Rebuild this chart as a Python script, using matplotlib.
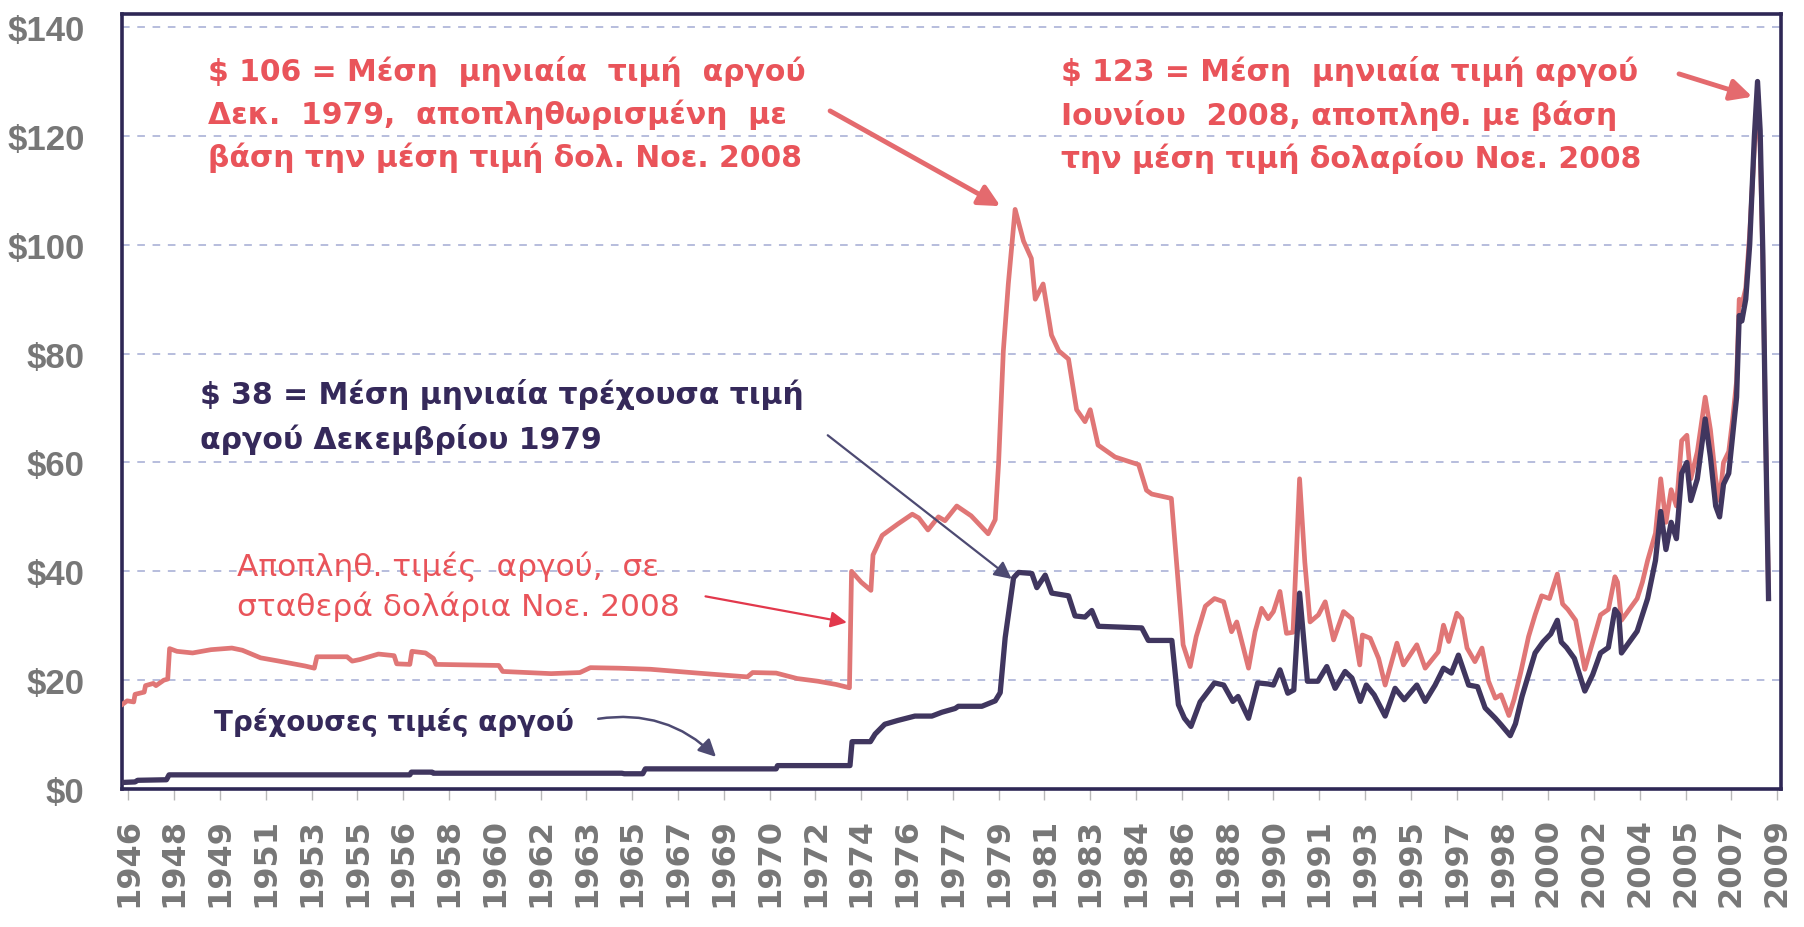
import matplotlib
matplotlib.use('Agg')
import matplotlib.pyplot as plt

# ---------------- data ----------------
real_years = [1946.00, 1946.20, 1946.45, 1946.50, 1946.85, 1946.90, 1947.20, 1947.30, 1947.60, 1947.75,
              1947.82, 1948.10, 1948.70, 1949.40, 1950.20, 1950.60, 1951.30, 1952.00, 1953.00, 1953.35,
              1953.45, 1954.60, 1954.80, 1955.10, 1955.80, 1956.40, 1956.50, 1957.00, 1957.08, 1957.60,
              1957.90, 1958.00, 1960.40, 1960.55, 1962.40, 1963.50, 1963.90, 1965.00, 1966.20, 1968.00,
              1969.90, 1970.10, 1971.00, 1971.80, 1972.60, 1973.30, 1973.80, 1973.88, 1974.25, 1974.62,
              1974.70, 1975.05, 1975.65, 1976.20, 1976.45, 1976.80, 1977.20, 1977.45, 1977.90, 1978.45,
              1979.10, 1979.37, 1979.50, 1979.68, 1979.87, 1980.13, 1980.45, 1980.75, 1980.90, 1981.20,
              1981.52, 1981.80, 1982.17, 1982.48, 1982.80, 1983.00, 1983.30, 1983.95, 1984.85, 1985.15,
              1985.35, 1986.10, 1986.35, 1986.55, 1986.82, 1987.05, 1987.40, 1987.75, 1988.10, 1988.40,
              1988.60, 1989.05, 1989.30, 1989.55, 1989.80, 1990.00, 1990.25, 1990.50, 1990.75, 1991.00,
              1991.20, 1991.40, 1991.72, 1991.98, 1992.30, 1992.68, 1993.00, 1993.30, 1993.40, 1993.70,
              1994.02, 1994.27, 1994.72, 1994.97, 1995.48, 1995.80, 1996.30, 1996.50, 1996.70, 1997.01,
              1997.20, 1997.40, 1997.70, 1997.97, 1998.22, 1998.48, 1998.70, 1999.00, 1999.20, 1999.45,
              1999.75, 2000.00, 2000.25, 2000.55, 2000.85, 2001.05, 2001.25, 2001.55, 2001.90, 2002.20,
              2002.50, 2002.80, 2003.05, 2003.15, 2003.30, 2003.60, 2003.90, 2004.10, 2004.30, 2004.60,
              2004.80, 2005.00, 2005.20, 2005.40, 2005.60, 2005.80, 2005.95, 2006.20, 2006.50, 2006.70,
              2006.90, 2007.05, 2007.20, 2007.40, 2007.55, 2007.70, 2007.80, 2007.90, 2008.05, 2008.20,
              2008.38, 2008.50, 2008.60, 2008.70, 2008.80, 2008.92]
real_price = [15.5, 16.2, 16.0, 17.4, 17.8, 19.0, 19.4, 19.0, 20.0, 20.2,
              25.8, 25.3, 25.0, 25.6, 25.9, 25.5, 24.1, 23.5, 22.6, 22.2,
              24.3, 24.3, 23.5, 23.8, 24.8, 24.5, 23.0, 22.9, 25.3, 25.0,
              24.0, 22.9, 22.7, 21.6, 21.2, 21.4, 22.3, 22.2, 22.0, 21.3,
              20.6, 21.4, 21.3, 20.3, 19.8, 19.2, 18.6, 40.0, 38.0, 36.5,
              43.0, 46.6, 48.7, 50.5, 49.8, 47.6, 50.0, 49.3, 52.0, 50.2,
              46.9, 49.5, 60.0, 80.5, 92.8, 106.5, 100.7, 97.5, 90.0, 92.8,
              83.4, 80.5, 79.0, 69.7, 67.5, 69.7, 63.2, 61.0, 59.6, 54.9,
              54.2, 53.4, 38.6, 26.5, 22.5, 28.0, 33.6, 35.0, 34.4, 28.9,
              30.7, 22.2, 28.9, 33.2, 31.3, 32.6, 36.3, 28.6, 28.8, 57.0,
              41.7, 30.7, 32.0, 34.4, 27.4, 32.6, 31.3, 22.8, 28.3, 27.7,
              24.0, 19.1, 26.8, 22.8, 26.5, 22.2, 25.2, 30.1, 27.1, 32.3,
              31.3, 25.9, 23.4, 25.9, 19.8, 16.7, 17.3, 13.5, 16.5, 21.4,
              28.0, 32.0, 35.5, 35.0, 39.5, 34.0, 33.0, 31.0, 22.0, 27.0,
              32.0, 33.0, 39.0, 38.0, 31.0, 33.0, 35.0, 38.0, 42.0, 47.0,
              57.0, 49.0, 55.0, 52.0, 64.0, 65.0, 57.0, 62.0, 72.0, 66.0,
              57.0, 53.0, 60.0, 62.0, 68.0, 75.0, 90.0, 89.0, 92.0, 102.0,
              118.0, 127.0, 118.0, 98.0, 68.0, 36.0]

nom_years = [1946.00, 1946.50, 1946.60, 1947.70, 1947.80, 1957.00, 1957.06, 1957.85, 1957.90, 1965.10,
             1965.20, 1965.90, 1966.00, 1971.00, 1971.05, 1973.82, 1973.90, 1974.60, 1974.78, 1975.15,
             1975.65, 1976.30, 1976.95, 1977.33, 1977.84, 1977.96, 1978.86, 1979.37, 1979.56, 1979.75,
             1980.07, 1980.26, 1980.77, 1980.96, 1981.28, 1981.53, 1982.17, 1982.42, 1982.80, 1983.06,
             1983.31, 1984.97, 1985.22, 1986.12, 1986.37, 1986.60, 1986.85, 1987.20, 1987.75, 1988.10,
             1988.45, 1988.65, 1989.05, 1989.40, 1989.80, 1990.00, 1990.25, 1990.55, 1990.78, 1991.00,
             1991.30, 1991.70, 1992.04, 1992.36, 1992.74, 1993.00, 1993.32, 1993.55, 1993.85, 1994.27,
             1994.65, 1995.00, 1995.48, 1995.80, 1996.18, 1996.50, 1996.80, 1997.07, 1997.46, 1997.80,
             1998.09, 1998.48, 1998.70, 1999.05, 1999.25, 1999.50, 1999.75, 2000.00, 2000.30, 2000.60,
             2000.85, 2001.00, 2001.20, 2001.50, 2001.90, 2002.20, 2002.50, 2002.80, 2003.05, 2003.20,
             2003.30, 2003.60, 2003.90, 2004.10, 2004.30, 2004.60, 2004.80, 2005.00, 2005.20, 2005.40,
             2005.60, 2005.80, 2005.95, 2006.20, 2006.50, 2006.70, 2006.90, 2007.05, 2007.20, 2007.40,
             2007.55, 2007.70, 2007.80, 2007.90, 2008.05, 2008.20, 2008.38, 2008.50, 2008.60, 2008.70,
             2008.80, 2008.92]
nom_price = [1.2, 1.3, 1.6, 1.7, 2.6, 2.6, 3.1, 3.1, 2.9, 2.9,
             2.8, 2.8, 3.7, 3.7, 4.3, 4.3, 8.7, 8.7, 10.1, 11.9,
             12.6, 13.4, 13.4, 14.1, 14.8, 15.2, 15.2, 16.2, 17.7, 27.8,
             38.8, 39.8, 39.6, 37.0, 39.3, 36.0, 35.5, 31.8, 31.6, 32.8,
             29.9, 29.6, 27.3, 27.3, 15.5, 13.0, 11.5, 16.0, 19.5, 19.1,
             16.1, 17.0, 13.0, 19.5, 19.3, 19.1, 21.9, 17.6, 18.2, 36.0,
             19.8, 19.8, 22.5, 18.5, 21.6, 20.4, 16.1, 19.1, 17.3, 13.4,
             18.5, 16.4, 19.1, 16.1, 19.1, 22.2, 21.3, 24.6, 19.1, 18.8,
             14.9, 13.0, 11.8, 9.8, 12.0, 17.0, 21.0, 25.0, 27.0, 28.5,
             31.0, 27.0, 26.0, 24.0, 18.0, 21.0, 25.0, 26.0, 33.0, 32.0,
             25.0, 27.0, 29.0, 32.0, 35.0, 42.0, 51.0, 44.0, 49.0, 46.0,
             58.0, 60.0, 53.0, 57.0, 68.0, 61.0, 52.0, 50.0, 56.0, 58.0,
             65.0, 72.0, 87.0, 86.0, 90.0, 100.0, 120.0, 130.0, 121.0, 99.0,
             68.0, 35.0]

x_tick_labels = ['1946', '1948', '1949', '1951', '1953', '1955', '1956', '1958', '1960', '1962',
                 '1963', '1965', '1967', '1969', '1970', '1972', '1974', '1976', '1977', '1979',
                 '1981', '1983', '1984', '1986', '1988', '1990', '1991', '1993', '1995', '1997',
                 '1998', '2000', '2002', '2004', '2005', '2007', '2009']
y_ticks = [0, 20, 40, 60, 80, 100, 120, 140]
y_tick_labels = ['$' + str(v) for v in y_ticks]

# ---------------- styling ----------------
RED_LINE = '#e07676'
DARK_LINE = '#40365f'
RED_TEXT = '#e9545a'
DARK_TEXT = '#35295a'
FRAME = '#2e2755'
GREY = '#777777'
TXT_FONT = ['DejaVu Sans']

fig = plt.figure(figsize=(18.04, 9.28), dpi=100)
fig.patch.set_facecolor('white')
ax = fig.add_axes([0.0676, 0.1487, 0.9197, 0.8351])

ax.plot(real_years, real_price, color=RED_LINE, lw=3.4, solid_joinstyle='round', zorder=3)
ax.plot(nom_years, nom_price, color=DARK_LINE, lw=3.8, solid_joinstyle='round', zorder=4)

ax.set_xlim(1946.0, 2009.4)
ax.set_ylim(0, 142.4)

ax.set_yticks(y_ticks)
ax.set_yticklabels(y_tick_labels)
ax.tick_params(axis='y', length=0, pad=27, labelcolor=GREY)
for t in ax.get_yticklabels():
    t.set_family(['Liberation Sans Narrow', 'Liberation Sans', 'DejaVu Sans'])
    t.set_fontweight('bold')
    t.set_fontsize(25)

x_pos = [1946.25 + 1.75 * i for i in range(len(x_tick_labels))]
ax.set_xticks(x_pos)
ax.set_xticklabels(x_tick_labels, rotation=90)
ax.tick_params(axis='x', length=8, width=1, color='#b8b8b8', pad=12, labelcolor=GREY)
for t in ax.get_xticklabels():
    t.set_family(['DejaVu Sans'])
    t.set_fontweight('bold')
    t.set_fontsize(23)

ax.grid(axis='y', color='#a3abd3', lw=1.1, ls=(0, (5, 5)), zorder=0)
ax.set_axisbelow(True)

for s in ax.spines.values():
    s.set_color(FRAME)
    s.set_linewidth(2.6)

# ---------------- annotations ----------------
ax.text(1949.3, 134.8,
        '$ 106 = Μέση  μηνιαία  τιμή  αργού\nΔεκ.  1979,  αποπληθωρισμένη  με\nβάση την μέση τιμή δολ. Νοε. 2008',
        color=RED_TEXT, fontsize=21.5, fontweight='bold', family=TXT_FONT, va='top', ha='left',
        linespacing=1.5, zorder=6)
ax.text(1981.9, 134.8,
        '$ 123 = Μέση  μηνιαία τιμή αργού\nΙουνίου  2008, αποπληθ. με βάση\nτην μέση τιμή δολαρίου Νοε. 2008',
        color=RED_TEXT, fontsize=21.5, fontweight='bold', family=TXT_FONT, va='top', ha='left',
        linespacing=1.5, zorder=6)
ax.text(1949.0, 75.5,
        '$ 38 = Μέση μηνιαία τρέχουσα τιμή\nαργού Δεκεμβρίου 1979',
        color=DARK_TEXT, fontsize=21.5, fontweight='bold', family=TXT_FONT, va='top', ha='left',
        linespacing=1.55, zorder=6)
ax.text(1950.4, 43.8,
        'Αποπληθ. τιμές  αργού,  σε\nσταθερά δολάρια Νοε. 2008',
        color=RED_TEXT, fontsize=22.5, family=TXT_FONT, va='top', ha='left',
        linespacing=1.4, zorder=6)
ax.text(1949.5, 15.0, 'Τρέχουσες τιμές αργού',
        color=DARK_TEXT, fontsize=20, fontweight='bold', family=TXT_FONT, va='top', ha='left',
        zorder=6)

ax.annotate('', xy=(1979.57, 107.1), xytext=(1973.06, 124.6),
            arrowprops=dict(arrowstyle='-|>', color='#e46a6e', lw=3.5, mutation_scale=32,
                            shrinkA=0, shrinkB=0), zorder=7)
ax.annotate('', xy=(2008.3, 127.2), xytext=(2005.5, 131.4),
            arrowprops=dict(arrowstyle='-|>', color='#e46a6e', lw=3.5, mutation_scale=32,
                            shrinkA=0, shrinkB=0), zorder=7)
ax.annotate('', xy=(1980.0, 38.6), xytext=(1972.97, 65.0),
            arrowprops=dict(arrowstyle='-|>', color='#4d4a72', lw=1.6, mutation_scale=26,
                            shrinkA=0, shrinkB=0), zorder=7)
ax.annotate('', xy=(1973.7, 30.6), xytext=(1968.3, 35.4),
            arrowprops=dict(arrowstyle='-|>', color='#e2384c', lw=1.6, mutation_scale=24,
                            shrinkA=0, shrinkB=0), zorder=7)
ax.annotate('', xy=(1968.7, 5.9), xytext=(1964.2, 12.9),
            arrowprops=dict(arrowstyle='-|>', color='#4d4a72', lw=1.8, mutation_scale=26,
                            shrinkA=0, shrinkB=0, connectionstyle='arc3,rad=-0.25'), zorder=7)

fig.savefig('out.png', dpi=100, facecolor='white')
